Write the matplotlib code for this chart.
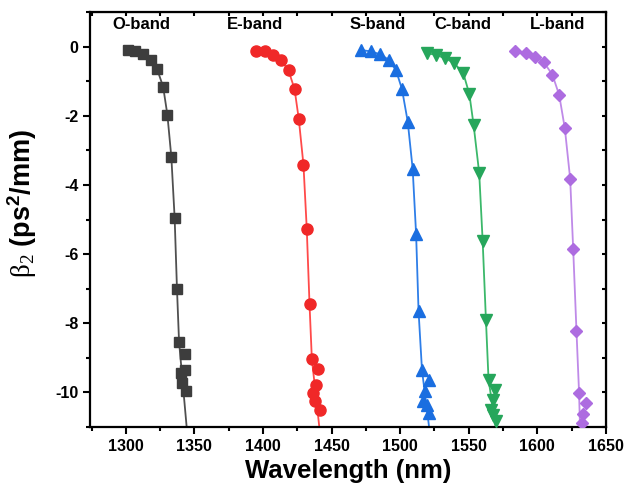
import matplotlib
matplotlib.use("Agg")
import matplotlib.pyplot as plt
from matplotlib.ticker import MultipleLocator

plt.rcParams["font.family"] = ["Liberation Sans", "DejaVu Sans"]
plt.rcParams["font.weight"] = "bold"
plt.rcParams["axes.unicode_minus"] = False
plt.rcParams["mathtext.fontset"] = "custom"
plt.rcParams["mathtext.rm"] = "Liberation Serif:weight=normal"
plt.rcParams["mathtext.bf"] = "Liberation Sans:bold"

BANDS = ["O-band", "E-band", "S-band", "C-band", "L-band"]
LABEL_WL = [1311.5, 1394, 1483.5, 1545.5, 1614.5]

O_WL = [1301.7, 1306.5, 1312.6, 1318.0, 1322.8, 1327.2, 1330.3, 1333.2, 1335.6, 1337.3, 1338.8,
        1343.2, 1340.0, 1342.9, 1341.2, 1344.1]
O_BETA = [-0.10, -0.14, -0.22, -0.38, -0.65, -1.16, -1.97, -3.20, -4.96, -7.01, -8.53,
          -8.88, -9.44, -9.34, -9.73, -9.97]

E_WL = [1394.6, 1401.2, 1407.2, 1413.3, 1418.6, 1423.0, 1426.1, 1429.5, 1431.9, 1433.9, 1435.6,
        1440.0, 1438.8, 1436.8, 1437.6, 1441.2]
E_BETA = [-0.12, -0.14, -0.24, -0.40, -0.69, -1.23, -2.10, -3.42, -5.27, -7.44, -9.03,
          -9.32, -9.78, -10.02, -10.26, -10.50]

S_WL = [1471.5, 1478.8, 1485.3, 1491.6, 1497.0, 1501.3, 1505.5, 1509.1, 1511.6, 1513.4, 1515.9,
        1520.7, 1518.3, 1516.4, 1519.3, 1521.3]
S_BETA = [-0.10, -0.14, -0.22, -0.38, -0.69, -1.23, -2.17, -3.54, -5.42, -7.66, -9.36,
          -9.63, -9.97, -10.26, -10.36, -10.60]

C_WL = [1519.3, 1526.1, 1532.9, 1539.4, 1546.0, 1550.4, 1553.5, 1557.6, 1560.1, 1562.5, 1564.4,
        1569.3, 1567.3, 1566.1, 1567.8, 1569.7]
C_BETA = [-0.19, -0.24, -0.34, -0.48, -0.77, -1.37, -2.26, -3.66, -5.61, -7.90, -9.63,
          -9.92, -10.21, -10.50, -10.64, -10.84]

L_WL = [1583.8, 1591.6, 1598.4, 1604.9, 1611.0, 1615.9, 1620.0, 1623.9, 1626.1, 1628.5, 1630.4,
        1635.3, 1633.3, 1632.3]
L_BETA = [-0.14, -0.19, -0.29, -0.46, -0.82, -1.40, -2.36, -3.82, -5.85, -8.22, -10.02,
          -10.31, -10.62, -10.87]

# where each fitted line leaves the bottom of the plot
LINE_END_WL = [1344.8, 1441.6, 1521.7, 1570.4, 1631.2]
LINE_END_BETA = -11.2
N_FIT = 11  # markers that lie on the smooth line

SERIES = [(O_WL, O_BETA), (E_WL, E_BETA), (S_WL, S_BETA), (C_WL, C_BETA), (L_WL, L_BETA)]
MARKER_COLORS = ["#3d3d3d", "#f02828", "#1a6ee0", "#26a65b", "#ad6ce0"]
LINE_COLORS = ["#505050", "#ff4a4a", "#2e7ee8", "#3bb86a", "#bf8ae8"]
MARKERS = ["s", "o", "^", "v", "D"]
MSIZES = [7, 8, 8.5, 8.5, 6.5]

fig = plt.figure(figsize=(6.26, 5.0), dpi=100)
ax = fig.add_axes([0.144, 0.146, 0.824, 0.83])

for (wl, beta), end_wl, mc, lc, mk, ms in zip(SERIES, LINE_END_WL, MARKER_COLORS, LINE_COLORS, MARKERS, MSIZES):
    ax.plot(wl[:N_FIT] + [end_wl], beta[:N_FIT] + [LINE_END_BETA], color=lc, lw=1.3, zorder=2)
    ax.plot(wl, beta, ls="none", marker=mk, ms=ms, color=mc, mec=mc, zorder=3)

for name, x in zip(BANDS, LABEL_WL):
    ax.text(x, 0.64, name, ha="center", va="center", fontsize=12, fontweight="bold")

ax.set_xlim(1274, 1650)
ax.set_ylim(-11, 1.0)
ax.xaxis.set_major_locator(MultipleLocator(50))
ax.xaxis.set_minor_locator(MultipleLocator(25))
ax.set_yticks([0, -2, -4, -6, -8, -10])
ax.yaxis.set_minor_locator(MultipleLocator(1))

# outer ticks on bottom and left, short inner ticks on top and right
ax.tick_params(which="both", direction="out", width=1.5, labelsize=11.5, top=False, right=False)
ax.tick_params(which="major", length=5)
ax.tick_params(which="minor", length=3)
sec_x = ax.secondary_xaxis("top")
sec_x.xaxis.set_major_locator(MultipleLocator(25))
sec_x.tick_params(direction="in", length=3, width=1.5, labeltop=False)
sec_y = ax.secondary_yaxis("right")
sec_y.yaxis.set_major_locator(MultipleLocator(1))
sec_y.tick_params(direction="in", length=3, width=1.5, labelright=False)
for sp in ax.spines.values():
    sp.set_linewidth(1.6)

ax.set_xlabel("Wavelength (nm)", fontsize=18.5, fontweight="bold", labelpad=4)
ax.set_ylabel(r"$\mathrm{\beta_2}$ $\mathbf{(ps^2/mm)}$", fontsize=19.5, fontweight="normal")
ax.yaxis.set_label_coords(-0.10, 0.54)

fig.savefig("out.png", dpi=100)
